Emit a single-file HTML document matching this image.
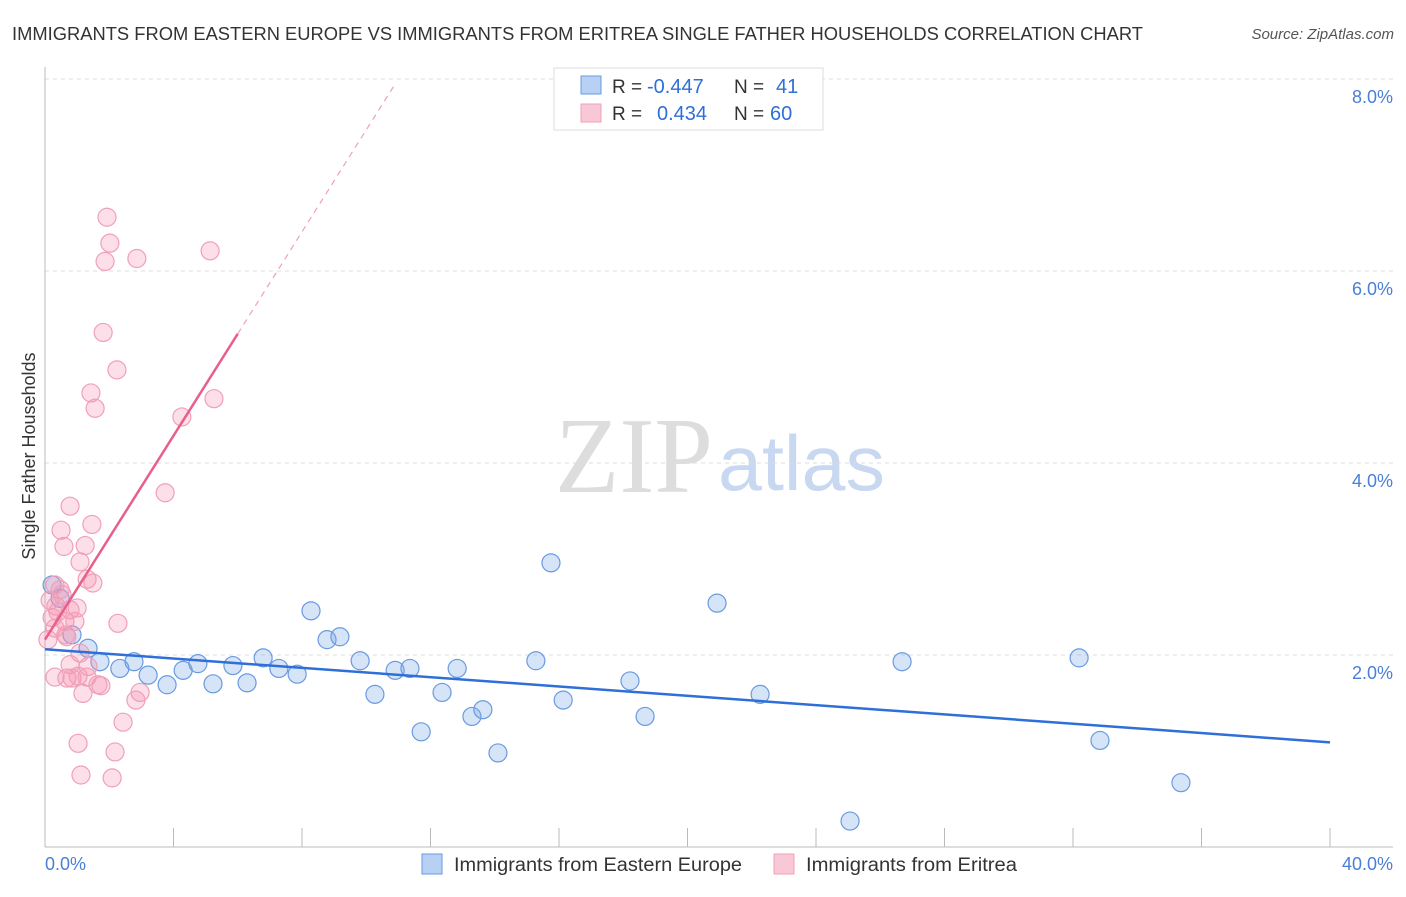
<!DOCTYPE html>
<html><head><meta charset="utf-8">
<style>
body{margin:0;background:#fff;font-family:"Liberation Sans",sans-serif;}
svg text{font-family:"Liberation Sans",sans-serif;}
</style></head>
<body>
<svg id="chart" width="1406" height="892">
<text x="12" y="40" font-size="18" fill="#333" textLength="1131" lengthAdjust="spacingAndGlyphs">IMMIGRANTS FROM EASTERN EUROPE VS IMMIGRANTS FROM ERITREA SINGLE FATHER HOUSEHOLDS CORRELATION CHART</text>
<text x="1394" y="39" font-size="15" fill="#555" font-style="italic" text-anchor="end">Source: ZipAtlas.com</text>
<text x="555" y="492" font-size="108" fill="#ddd" textLength="158" lengthAdjust="spacingAndGlyphs" style="font-family:'Liberation Serif',serif">ZIP</text>
<text x="718" y="490" font-size="78" fill="#c8d8f0" textLength="167" lengthAdjust="spacingAndGlyphs">atlas</text>
<g id="grid"></g>
<g id="axes"></g>
<g id="pts"></g>
<g id="lines"></g>
<text x="35" y="456" font-size="18" fill="#333" text-anchor="middle" transform="rotate(-90 35 456)">Single Father Households</text>
<text x="45" y="870" font-size="18" fill="#4a7fd6">0.0%</text>
<text x="1393" y="870" font-size="18" fill="#4a7fd6" text-anchor="end">40.0%</text>
<g>
<rect x="554" y="68" width="269" height="62" fill="#fff" stroke="#ddd"/>
<rect x="581" y="76" width="20" height="18" fill="#b8d0f4" stroke="#6a9ae0"/>
<rect x="581" y="104" width="20" height="18" fill="#f8c8d6" stroke="#f0a0b8"/>
<text x="612" y="93" font-size="19" fill="#333">R =</text>
<text x="647" y="93" font-size="20" fill="#2e6fd8">-0.447</text>
<text x="734" y="93" font-size="19" fill="#333">N =</text>
<text x="776" y="93" font-size="20" fill="#2e6fd8">41</text>
<text x="612" y="120" font-size="19" fill="#333">R =</text>
<text x="657" y="120" font-size="20" fill="#2e6fd8">0.434</text>
<text x="734" y="120" font-size="19" fill="#333">N =</text>
<text x="770" y="120" font-size="20" fill="#2e6fd8">60</text>
</g>
<g>
<rect x="422" y="854" width="20" height="20" fill="#b8d0f4" stroke="#6a9ae0"/>
<text x="454" y="871" font-size="19" fill="#333" textLength="288" lengthAdjust="spacingAndGlyphs">Immigrants from Eastern Europe</text>
<rect x="774" y="854" width="20" height="20" fill="#f8c8d6" stroke="#f0a0b8"/>
<text x="806" y="871" font-size="19" fill="#333" textLength="211" lengthAdjust="spacingAndGlyphs">Immigrants from Eritrea</text>
</g>
</svg>
<script>
const yTicks=[2,4,6,8];
const xTicks=[0,4,8,12,16,20,24,28,32,36,40];
const blueX=[0.22,0.47,0.84,1.34,1.71,2.33,2.77,3.21,3.80,4.30,4.76,5.23,5.85,6.29,6.79,7.28,7.85,8.28,8.78,9.18,9.81,10.27,10.90,11.36,11.71,12.36,12.83,13.29,13.63,14.10,15.28,15.75,16.13,18.21,18.68,20.92,22.26,25.06,26.68,32.19,32.84,35.36];
const blueY=[2.73,2.59,2.21,2.07,1.93,1.86,1.93,1.79,1.69,1.84,1.91,1.70,1.89,1.71,1.97,1.86,1.80,2.46,2.16,2.19,1.94,1.59,1.84,1.86,1.20,1.61,1.86,1.36,1.43,0.98,1.94,2.96,1.53,1.73,1.36,2.54,1.59,0.27,1.93,1.97,1.11,0.67];
const pinkX=[1.93,2.02,1.87,2.86,5.14,1.81,2.24,1.43,1.56,4.26,5.26,3.74,0.78,0.50,1.46,1.25,0.59,1.09,1.31,1.49,0.31,0.47,0.16,0.34,1.00,0.78,0.22,0.62,0.93,2.27,0.68,1.09,0.78,1.34,0.31,0.68,0.84,1.03,1.31,1.18,1.74,1.65,2.96,2.83,2.43,1.03,2.18,1.12,2.09,0.09,0.31,0.53,0.40,0.65];
const pinkY=[6.56,6.29,6.10,6.13,6.21,5.36,4.97,4.73,4.57,4.48,4.67,3.69,3.55,3.30,3.36,3.14,3.13,2.97,2.79,2.75,2.73,2.68,2.57,2.51,2.49,2.47,2.39,2.35,2.35,2.33,2.19,2.02,1.90,1.88,1.77,1.76,1.76,1.78,1.77,1.60,1.68,1.69,1.61,1.53,1.30,1.08,0.99,0.75,0.72,2.16,2.28,2.63,2.45,2.21];
const blueTrend=[2.06,1.09];
const pinkTrend=[2.16,0.531];
const X=v=>45+v/40*1285;
const Y=v=>847-v*96;
const NS="http://www.w3.org/2000/svg";
function mk(p,t,a){const e=document.createElementNS(NS,t);for(const k in a)e.setAttribute(k,a[k]);document.getElementById(p).appendChild(e);return e;}
yTicks.forEach(t=>{
 const l=mk('grid','line',{x1:45,x2:1393,y1:Y(t),y2:Y(t),stroke:'#ddd','stroke-dasharray':'4,4'});
 
 
 const tx=mk('grid','text',{x:1393,y:Y(t)+24,'font-size':18,fill:'#4a7fd6','text-anchor':'end'});
 tx.textContent=t.toFixed(1)+'%';
 
 
});
const ya=mk('axes','line',{x1:45,x2:45,y1:67,y2:847,stroke:'#bbb'});


const xa=mk('axes','line',{x1:45,x2:1393,y1:847,y2:847,stroke:'#bbb'});


xTicks.forEach(t=>{
 const l=mk('axes','line',{x1:X(t),x2:X(t),y1:828,y2:847,stroke:'#bbb'});
 
 
});
blueX.forEach((x,i)=>{
 const c=mk('pts','circle',{cx:X(x),cy:Y(blueY[i]),r:9,fill:'rgba(120,165,230,0.3)',stroke:'#6a9ae0','stroke-width':1.2});
 
 
});
pinkX.forEach((x,i)=>{
 const c=mk('pts','circle',{cx:X(x),cy:Y(pinkY[i]),r:9,fill:'rgba(245,150,180,0.3)',stroke:'#f0a0b8','stroke-width':1.2});
 
 
});
const bl=mk('lines','line',{x1:X(0),y1:Y(blueTrend[0]),x2:X(40),y2:Y(blueTrend[1]),stroke:'#2e6fd8','stroke-width':2.5});


const pf=x=>pinkTrend[0]+pinkTrend[1]*x;
const pl=mk('lines','line',{x1:X(0),y1:Y(pf(0)),x2:X(6.0),y2:Y(pf(6.0)),stroke:'#e8608a','stroke-width':2.5});


const pd=mk('lines','line',{x1:X(6.0),y1:Y(pf(6.0)),x2:X(10.9),y2:Y(pf(10.9)),stroke:'#f0a0b8','stroke-width':1.2,'stroke-dasharray':'6,5'});


</script>
</body></html>
